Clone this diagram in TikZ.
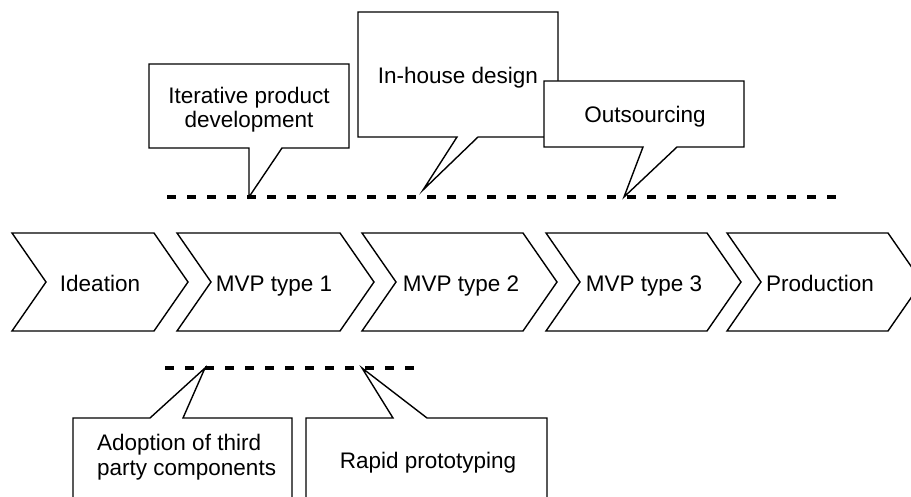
\documentclass[tikz,border=0pt]{standalone}
\usepackage{fontspec}
\setmainfont{Liberation Sans}
\begin{document}
\begin{tikzpicture}[x=1pt,y=-1pt,
  outline/.style={draw=black,line width=1.4pt,fill=white,line join=miter},
  guide/.style={draw=black,line width=3.8pt,dash pattern=on 9pt off 11pt},
  lbl/.style={inner sep=0pt,anchor=base,font=\fontsize{22.5}{24.5}\selectfont,text=black}]
\useasboundingbox (0,0) rectangle (911,497);
\clip (0,0) rectangle (911,497);

% process chevrons: left edge L, right edge R, point depth 34
\foreach \L/\R in {12/154, 177/340, 362/523, 546/707, 727/888}{
  \path[outline] (\L,233) -- (\R,233) -- (\R+34,282) -- (\R,331) -- (\L,331) -- (\L+34,282) -- cycle;
}
\node[lbl] (ideation) at (100,292) {Ideation};
\node[lbl] (mvp1) at (274,292) {MVP type 1};
\node[lbl] (mvp2) at (461,292) {MVP type 2};
\node[lbl] (mvp3) at (644,292) {MVP type 3};
\node[lbl] (prod) at (820,292) {Production};

% timeline guides
\coordinate (upA) at (167,197);
\coordinate (upB) at (847,197);
\coordinate (loA) at (165,368);
\coordinate (loB) at (415,368);
\draw[guide] (upA) -- (upB);
\draw[guide] (loA) -- (loB);

% callout tips on the guides
\coordinate (tipIter) at (249,197);
\coordinate (tipHouse) at (423,190);
\coordinate (tipOut) at (624,197);
\coordinate (tipAdopt) at (205,368);
\coordinate (tipRapid) at (362,368);

% upper callouts
\path[outline] (149,64) -- (349,64) -- (349,148) -- (282,148) -- (tipIter) -- (249,148) -- (149,148) -- cycle;
\node[lbl,align=center] (iter) at (249,128) {Iterative product\\development};

\path[outline] (358,12) -- (558,12) -- (558,137) -- (478,137) -- (tipHouse) -- (457,137) -- (358,137) -- cycle;
\node[lbl] (house) at (458,84) {In-house design};

\path[outline] (544,81) -- (744,81) -- (744,147) -- (677,147) -- (tipOut) -- (643,147) -- (544,147) -- cycle;
\node[lbl] (outs) at (645,123) {Outsourcing};

% lower callouts
\path[outline] (73,505) -- (73,418) -- (150,418) -- (tipAdopt) -- (183,418) -- (292,418) -- (292,505);
\node[lbl,anchor=base west,align=left] (adopt) at (97,475) {Adoption of third\\party components};

\path[outline] (306,505) -- (306,418) -- (393,418) -- (tipRapid) -- (427,418) -- (547,418) -- (547,505);
\node[lbl] (rapid) at (428,468) {Rapid prototyping};
\end{tikzpicture}
\end{document}
